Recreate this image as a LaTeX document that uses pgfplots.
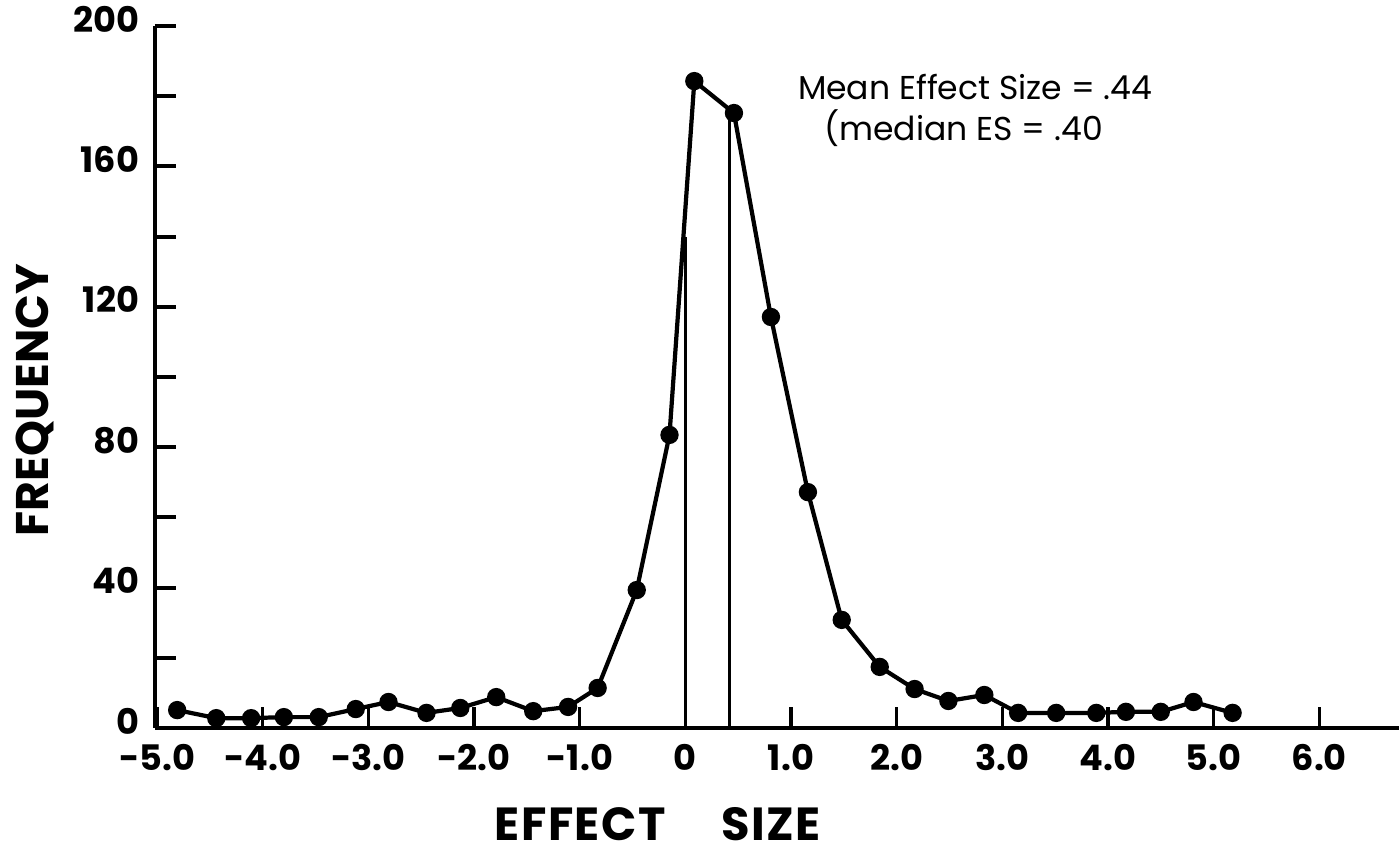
\documentclass[border=0pt]{standalone}
\usepackage{pgfplots}
\pgfplotsset{compat=1.18}
\usepackage{fontspec}
\setmainfont{Poppins}

% effect size distribution (frequency per bin)
\pgfplotstableread{
x      y
-4.81  5.1
-4.44  2.8
-4.11  2.8
-3.80  3.1
-3.47  3.1
-3.12  5.4
-2.81  7.4
-2.45  4.3
-2.13  5.7
-1.79  8.8
-1.44  4.8
-1.11  6.0
-0.83  11.4
-0.46  39.3
-0.15  83.5
 0.085 184.3
 0.46  175.2
 0.81  117.1
 1.16  67.2
 1.48  30.8
 1.84  17.4
 2.17  11.1
 2.49  7.7
 2.83  9.4
 3.15  4.3
 3.51  4.3
 3.89  4.3
 4.17  4.6
 4.50  4.6
 4.81  7.4
 5.18  4.3
}\esdata

\begin{document}
\begin{tikzpicture}
\begin{axis}[
  name=ax, at={(0,0)}, anchor=south west,
  scale only axis, width=12.44cm, height=7.02cm,
  xmin=-5.02, xmax=6.755, ymin=0, ymax=200,
  axis x line=bottom, axis y line=left,
  axis line style={-, line width=1.4pt},
  tick align=inside,
  major tick length=0.21cm,
  xtick={-5,-4,...,6},
  xticklabels={-5.0,-4.0,-3.0,-2.0,-1.0,0,1.0,2.0,3.0,4.0,5.0,6.0},
  ytick={0,20,...,200},
  yticklabels={0,,40,,80,,120,,160,,200},
  x tick style={line width=0.9pt, black},
  y tick style={line width=1.1pt, black},
  tick label style={font=\bfseries\fontsize{10}{12}\selectfont},
  xticklabel style={yshift=-1pt},
  yticklabel style={xshift=-1pt, yshift=2pt},
  xlabel={EFFECT\hspace{1.2em}SIZE},
  ylabel={FREQUENCY},
  xlabel style={at={(axis description cs:0.404,-0.137)}, anchor=center, inner sep=0pt,
    font=\bfseries\fontsize{13.2}{15}\selectfont\addfontfeature{LetterSpace=3}},
  ylabel style={at={(axis description cs:-0.0965,0.467)}, anchor=center,
    font=\bfseries\fontsize{13}{15}\selectfont},
  clip=false,
]
\addplot[black, line width=1.2pt, mark=*, mark size=2pt] table[x=x,y=y] {\esdata};
\addplot[black, line width=0.9pt] coordinates {(0,0) (0,140)};
\addplot[black, line width=0.9pt] coordinates {(0.42,0) (0.42,176)};
\node[anchor=west, inner sep=0pt, font=\fontsize{9.4}{11}\selectfont] at (axis cs:1.06,182.5) {Mean Effect Size = .44};
\node[anchor=west, inner sep=0pt, font=\fontsize{9.4}{11}\selectfont] at (axis cs:1.31,171) {(median ES = .40};
\end{axis}
\pgfresetboundingbox
\path (-1.55cm,-1.24cm) rectangle (12.44cm,7.28cm);
\end{tikzpicture}
\end{document}
